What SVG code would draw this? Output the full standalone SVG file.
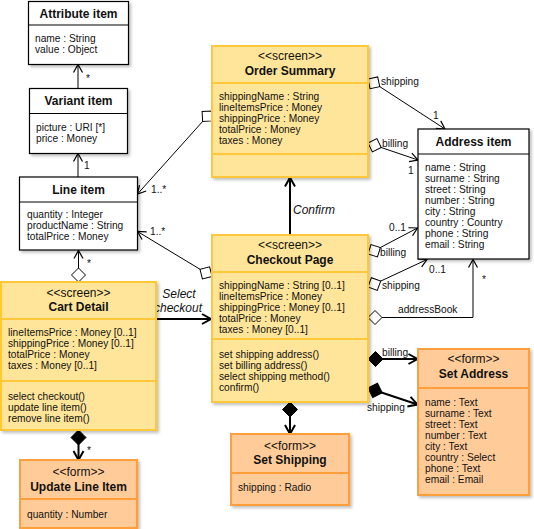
<svg xmlns="http://www.w3.org/2000/svg" width="534" height="529" viewBox="0 0 534 529">
<style>
text{font-family:"Liberation Sans",Arial,sans-serif;fill:#111}
.t{font-size:12px;font-weight:bold;text-anchor:middle}
.s{font-size:12px;text-anchor:middle}
.a{font-size:10.2px}
.l{font-size:10.2px}
.i{font-size:12px;font-style:italic}
.plain{fill:#fff;stroke:#000;stroke-width:1.2}
.scr{fill:#FFE599;stroke:#FFC83A;stroke-width:2}
.frm{fill:#FFCC99;stroke:#FF9E3A;stroke-width:2}
.div0{stroke:#000;stroke-width:1.2}
.div1{stroke:#FFC83A;stroke-width:2}
.div2{stroke:#FF9E3A;stroke-width:2}
.c{fill:none;stroke:#000;stroke-width:1}
.c2{fill:none;stroke:#000;stroke-width:2}
.box{filter:url(#sh)}
</style>
<defs>
<filter id="sh" x="-10%" y="-10%" width="130%" height="130%">
<feDropShadow dx="2" dy="2" stdDeviation="1.8" flood-color="#000" flood-opacity="0.25"/>
</filter>
<marker id="ar" markerUnits="userSpaceOnUse" markerWidth="12" markerHeight="12" viewBox="0 0 12 12" refX="10" refY="6" orient="auto" overflow="visible">
<path d="M2,1.5 L10,6 L2,10.5" fill="none" stroke="#000" stroke-width="1.2"/>
</marker>
<marker id="ar2" markerUnits="userSpaceOnUse" markerWidth="14" markerHeight="14" viewBox="0 0 14 14" refX="11" refY="7" orient="auto" overflow="visible">
<path d="M2,2 L11,7 L2,12" fill="none" stroke="#000" stroke-width="2"/>
</marker>
<marker id="dh" markerUnits="userSpaceOnUse" markerWidth="14" markerHeight="14" viewBox="0 0 14 14" refX="0" refY="7" orient="auto" overflow="visible">
<path d="M0,7 L7,0 L14,7 L7,14 Z" fill="#fff" stroke="#000" stroke-width="1"/>
</marker>
<marker id="df" markerUnits="userSpaceOnUse" markerWidth="16" markerHeight="16" viewBox="0 0 16 16" refX="0" refY="7.5" orient="auto" overflow="visible">
<path d="M0,7.5 L7.5,0 L15,7.5 L7.5,15 Z" fill="#000" stroke="#000" stroke-width="1"/>
</marker>
</defs>
<rect width="534" height="529" fill="#fff"/>

<g id="connectors">
<line class="c" x1="78" y1="88" x2="78" y2="64.5" marker-end="url(#ar)"/>
<text class="l" x="86" y="82">*</text>
<line class="c" x1="78" y1="177" x2="78" y2="153.5" marker-end="url(#ar)"/>
<text class="l" x="84" y="169">1</text>
<line class="c" x1="78.5" y1="282" x2="78.5" y2="250.5" marker-start="url(#dh)" marker-end="url(#ar)"/>
<text class="l" x="87" y="267">*</text>
<line class="c2" x1="78.5" y1="430" x2="78.5" y2="460" marker-start="url(#df)" marker-end="url(#ar2)"/>
<text class="l" x="87" y="454">*</text>
<line class="c" x1="212" y1="111" x2="137.5" y2="194" marker-start="url(#dh)" marker-end="url(#ar)"/>
<text class="l" x="151" y="193">1..*</text>
<line class="c" x1="212" y1="276.5" x2="137.5" y2="231.5" marker-start="url(#dh)" marker-end="url(#ar)"/>
<text class="l" x="150" y="235">1..*</text>
<line class="c" x1="368" y1="79" x2="445" y2="129" marker-start="url(#dh)" marker-end="url(#ar)"/>
<text class="l" x="381" y="85">shipping</text>
<text class="l" x="433" y="119">1</text>
<line class="c" x1="368" y1="143" x2="418" y2="160" marker-start="url(#dh)" marker-end="url(#ar)"/>
<text class="l" x="382" y="147">billing</text>
<text class="l" x="408" y="174">1</text>
<line class="c" x1="368" y1="254" x2="417.5" y2="228" marker-start="url(#dh)" marker-end="url(#ar)"/>
<text class="l" x="380" y="256">billing</text>
<text class="l" x="389" y="231">0..1</text>
<line class="c" x1="368" y1="287" x2="427" y2="259.5" marker-start="url(#dh)" marker-end="url(#ar)"/>
<text class="l" x="382" y="289">shipping</text>
<text class="l" x="429" y="273">0..1</text>
<polyline class="c" points="368,317.5 473,317.5 473,259.5" marker-start="url(#dh)" marker-end="url(#ar)"/>
<text class="l" x="398" y="313">addressBook</text>
<text class="l" x="482" y="283">*</text>
<line class="c2" x1="290" y1="235" x2="290" y2="177.5" marker-end="url(#ar2)"/>
<text class="i" x="293" y="214">Confirm</text>
<line class="c2" x1="156" y1="319" x2="211" y2="319" marker-end="url(#ar2)"/>
<text class="i" x="179" y="298" text-anchor="middle">Select</text>
<text class="i" x="178" y="312" text-anchor="middle">checkout</text>
<line class="c2" x1="368" y1="359" x2="417.5" y2="359" marker-start="url(#df)" marker-end="url(#ar2)"/>
<text class="l" x="382" y="356">billing</text>
<line class="c2" x1="368" y1="388" x2="417.5" y2="404.5" marker-start="url(#df)" marker-end="url(#ar2)"/>
<text class="l" x="367" y="411">shipping</text>
<line class="c2" x1="290" y1="402" x2="290" y2="434" marker-start="url(#df)" marker-end="url(#ar2)"/>
</g>

<g id="attribute-item">
<rect class="plain box" x="28.5" y="1.5" width="100" height="63"/>
<line class="div0" x1="28.5" y1="25" x2="128.5" y2="25"/>
<text class="t" x="78.5" y="17.5">Attribute item</text>
<text class="a" x="35" y="42">name : String</text>
<text class="a" x="35" y="53">value : Object</text>
</g>

<g id="variant-item">
<rect class="plain box" x="29.5" y="88.5" width="98" height="65"/>
<line class="div0" x1="29.5" y1="113.5" x2="127.5" y2="113.5"/>
<text class="t" x="78.5" y="105">Variant item</text>
<text class="a" x="36" y="130.5">picture : URI [*]</text>
<text class="a" x="36" y="141.5">price : Money</text>
</g>

<g id="line-item">
<rect class="plain box" x="19.5" y="177" width="118" height="73"/>
<line class="div0" x1="19.5" y1="202" x2="137.5" y2="202"/>
<text class="t" x="78.5" y="193.5">Line item</text>
<text class="a" x="27" y="217.5">quantity : Integer</text>
<text class="a" x="27" y="228.5">productName : String</text>
<text class="a" x="27" y="239.5">totalPrice : Money</text>
</g>

<g id="cart-detail">
<rect class="scr box" x="1" y="282" width="155" height="148"/>
<line class="div1" x1="1" y1="319" x2="156" y2="319"/>
<line class="div1" x1="1" y1="381" x2="156" y2="381"/>
<text class="s" x="78.5" y="296.5">&lt;&lt;screen&gt;&gt;</text>
<text class="t" x="78.5" y="311">Cart Detail</text>
<text class="a" x="8" y="335.5">lineItemsPrice : Money [0..1]</text>
<text class="a" x="8" y="346.5">shippingPrice : Money [0..1]</text>
<text class="a" x="8" y="357.5">totalPrice : Money</text>
<text class="a" x="8" y="368.5">taxes : Money [0..1]</text>
<text class="a" x="8" y="399.5">select checkout()</text>
<text class="a" x="8" y="410.5">update line item()</text>
<text class="a" x="8" y="421.5">remove line item()</text>
</g>

<g id="update-line-item">
<rect class="frm box" x="20" y="460" width="117" height="68"/>
<line class="div2" x1="20" y1="499" x2="137" y2="499"/>
<text class="s" x="78.5" y="475.5">&lt;&lt;form&gt;&gt;</text>
<text class="t" x="78.5" y="491">Update Line Item</text>
<text class="a" x="27" y="517.5">quantity : Number</text>
</g>

<g id="order-summary">
<rect class="scr box" x="212" y="46" width="156" height="131"/>
<line class="div1" x1="212" y1="83" x2="368" y2="83"/>
<line class="div1" x1="212" y1="154" x2="368" y2="154"/>
<text class="s" x="290" y="60">&lt;&lt;screen&gt;&gt;</text>
<text class="t" x="290" y="75">Order Summary</text>
<text class="a" x="219" y="100">shippingName : String</text>
<text class="a" x="219" y="111">lineItemsPrice : Money</text>
<text class="a" x="219" y="122">shippingPrice : Money</text>
<text class="a" x="219" y="133">totalPrice : Money</text>
<text class="a" x="219" y="144">taxes : Money</text>
</g>

<g id="checkout-page">
<rect class="scr box" x="212" y="235" width="156" height="167"/>
<line class="div1" x1="212" y1="272" x2="368" y2="272"/>
<line class="div1" x1="212" y1="339" x2="368" y2="339"/>
<text class="s" x="290" y="249">&lt;&lt;screen&gt;&gt;</text>
<text class="t" x="290" y="263.5">Checkout Page</text>
<text class="a" x="219" y="289">shippingName : String [0..1]</text>
<text class="a" x="219" y="300">lineItemsPrice : Money</text>
<text class="a" x="219" y="311">shippingPrice : Money [0..1]</text>
<text class="a" x="219" y="322">totalPrice : Money</text>
<text class="a" x="219" y="333">taxes : Money [0..1]</text>
<text class="a" x="219" y="358">set shipping address()</text>
<text class="a" x="219" y="369">set billing address()</text>
<text class="a" x="219" y="380">select shipping method()</text>
<text class="a" x="219" y="391">confirm()</text>
</g>

<g id="address-item">
<rect class="plain box" x="418" y="129" width="111" height="130"/>
<line class="div0" x1="418" y1="154" x2="529" y2="154"/>
<text class="t" x="473.5" y="146">Address item</text>
<text class="a" x="425" y="170.5">name : String</text>
<text class="a" x="425" y="181.5">surname : String</text>
<text class="a" x="425" y="192.5">street : String</text>
<text class="a" x="425" y="203.5">number : String</text>
<text class="a" x="425" y="214.5">city : String</text>
<text class="a" x="425" y="225.5">country : Country</text>
<text class="a" x="425" y="236.5">phone : String</text>
<text class="a" x="425" y="247.5">email : String</text>
</g>

<g id="set-address">
<rect class="frm box" x="418" y="349" width="111" height="146"/>
<line class="div2" x1="418" y1="388" x2="529" y2="388"/>
<text class="s" x="473.5" y="363">&lt;&lt;form&gt;&gt;</text>
<text class="t" x="473.5" y="378">Set Address</text>
<text class="a" x="425" y="405.5">name : Text</text>
<text class="a" x="425" y="416.5">surname : Text</text>
<text class="a" x="425" y="427.5">street : Text</text>
<text class="a" x="425" y="438.5">number : Text</text>
<text class="a" x="425" y="449.5">city : Text</text>
<text class="a" x="425" y="460.5">country : Select</text>
<text class="a" x="425" y="471.5">phone : Text</text>
<text class="a" x="425" y="482.5">email : Email</text>
</g>

<g id="set-shipping">
<rect class="frm box" x="231" y="434" width="118" height="71"/>
<line class="div2" x1="231" y1="473" x2="349" y2="473"/>
<text class="s" x="290" y="450">&lt;&lt;form&gt;&gt;</text>
<text class="t" x="290" y="464">Set Shipping</text>
<text class="a" x="238" y="490.5">shipping : Radio</text>
</g>
</svg>
